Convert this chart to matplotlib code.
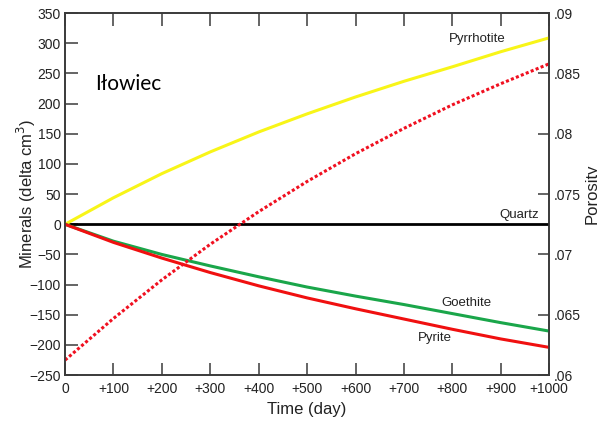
import matplotlib.pyplot as plt

plt.rcParams['font.family'] = ['Liberation Sans', 'DejaVu Sans']

# data
days = [0, 100, 200, 300, 400, 500, 600, 700, 800, 900, 1000]
pyrrhotite = [0, 44, 84, 120, 153, 183, 211, 237, 261, 286, 309]
quartz = [0, 0, 0, 0, 0, 0, 0, 0, 0, 0, 0]
goethite = [0, -28, -50, -69, -87, -104, -119, -133, -148, -163, -177]
pyrite = [0, -30, -56, -80, -102, -122, -140, -157, -174, -190, -204]
porosity = [0.06125, 0.0647, 0.0679, 0.07085, 0.07355, 0.07605,
            0.07835, 0.08045, 0.0824, 0.08415, 0.0858]

x_ticks = [0, 100, 200, 300, 400, 500, 600, 700, 800, 900, 1000]
x_labels = ['0'] + ['+%d' % d for d in x_ticks[1:]]
y_ticks = list(range(-250, 351, 50))
p_ticks = [0.06, 0.065, 0.07, 0.075, 0.08, 0.085, 0.09]
p_labels = ['.06', '.065', '.07', '.075', '.08', '.085', '.09']

spine_col = '#3a3a3a'
text_col = '#222222'

fig = plt.figure(figsize=(5.97, 4.22), dpi=100)
ax = fig.add_axes([0.109, 0.111, 0.811, 0.858])
ax2 = ax.twinx()

ax.plot(days, quartz, color='black', lw=2.0, zorder=3)
ax.plot(days, pyrrhotite, color='#f8f518', lw=2.2, zorder=3)
ax.plot(days, goethite, color='#1aa64a', lw=2.2, zorder=3)
ax.plot(days, pyrite, color='#f01010', lw=2.2, zorder=4)
ax2.plot(days, porosity, color='#f01020', lw=2.2, linestyle=(0, (1, 0.75)))

ax.set_xlim(0, 1000)
ax.set_ylim(-250, 350)
ax2.set_ylim(0.06, 0.09)

ax.set_xticks(x_ticks)
ax.set_xticklabels(x_labels)
ax.set_yticks(y_ticks)
ax2.set_yticks(p_ticks)
ax2.set_yticklabels(p_labels)

ax.tick_params(axis='x', direction='in', length=9, width=1.1, color=spine_col,
               labelsize=10, labelcolor=text_col, top=True, pad=5)
ax.tick_params(axis='y', direction='in', length=9, width=1.1, color=spine_col,
               labelsize=10, labelcolor=text_col, pad=3)
ax2.tick_params(axis='y', direction='in', length=8, width=1.1, color=spine_col,
                labelsize=10, labelcolor=text_col, pad=3)

for a in (ax, ax2):
    for s in a.spines.values():
        s.set_color(spine_col)
        s.set_linewidth(1.2)

ax.set_xlabel('Time (day)', fontsize=12, color=text_col, labelpad=4)
ax.set_ylabel('Minerals (delta cm$^3$)', fontsize=12, color=text_col, labelpad=-6)
ax2.set_ylabel('Porosity', fontsize=12, color=text_col, labelpad=3)

ax.text(62, 233, 'Iłowiec', fontsize=15, family=['Lato', 'DejaVu Sans'],
        color='black', va='center', ha='left')
ax.text(852, 307, 'Pyrrhotite', fontsize=9.5, color=text_col, ha='center', va='center')
ax.text(938, 15, 'Quartz', fontsize=9.5, color=text_col, ha='center', va='center')
ax.text(828, -131, 'Goethite', fontsize=9.5, color=text_col, ha='center', va='center')
ax.text(763, -189, 'Pyrite', fontsize=9.5, color=text_col, ha='center', va='center')

fig.savefig('out.png', dpi=100)
